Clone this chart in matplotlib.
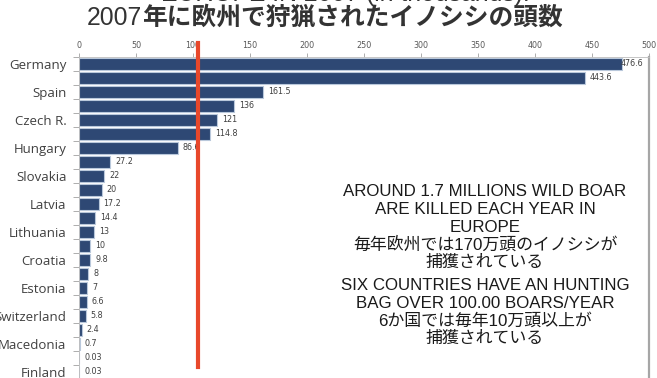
import matplotlib.pyplot as plt
import numpy as np

# Wild boar hunting bag per country, thousands (only every second name is printed)
labels = ["Germany", "", "Spain", "", "Czech R.", "", "Hungary", "",
          "Slovakia", "", "Latvia", "", "Lithuania", "", "Croatia", "",
          "Estonia", "", "Switzerland", "", "Macedonia", "", "Finland"]
values = [476.6, 443.6, 161.5, 136, 121, 114.8, 86.6, 27.2, 22, 20, 17.2,
          14.4, 13, 10, 9.8, 8, 7, 6.6, 5.8, 2.4, 0.7, 0.03, 0.03]
x_ticks = [0, 50, 100, 150, 200, 250, 300, 350, 400, 450, 500]
ref_line = 104

title_top = "EUROPE IN 2007 (in thousands)."
title_num = "2007"
title_jp = "年に欧州で狩猟されたイノシシの頭数"

note1 = ["AROUND 1.7 MILLIONS WILD BOAR", "ARE KILLED EACH YEAR IN", "EUROPE",
         "毎年欧州では170万頭のイノシシが", "捕獲されている"]
note2 = ["SIX COUNTRIES HAVE AN HUNTING", "BAG OVER 100.00 BOARS/YEAR",
         "6か国では毎年10万頭以上が", "捕獲されている"]

mixed = ["Liberation Sans", "Noto Sans CJK JP"]
W, H = 657, 378

fig = plt.figure(figsize=(W / 100, H / 100), dpi=100)
ax = fig.add_axes([79 / W, 1 - 379 / H, 570 / W, 322 / H])

y = np.arange(len(values))
ax.barh(y, values, height=0.82, color="#2E4874", edgecolor="#B9C8DB",
        linewidth=0.8, zorder=2)

for yi, v in zip(y, values):
    off = -1 if v > 470 else 3.6
    ax.annotate(f"{v:g}", (v, yi), xytext=(off, 0), textcoords="offset points",
                va="center", ha="left", fontsize=5.8, color="#404040",
                family="DejaVu Sans")

ax.set_xlim(0, 500)
ax.set_ylim(len(values) - 0.5, -0.5)

ax.xaxis.tick_top()
ax.set_xticks(x_ticks)
ax.set_xticklabels([str(t) for t in x_ticks])
ax.tick_params(axis="x", length=3, width=0.6, color="#A0A0A0", pad=2,
               labelsize=5.8, labelcolor="#595959")

ax.set_yticks(y)
ax.set_yticklabels(labels, family="Open Sans", fontsize=9.5, color="#404040")
ax.tick_params(axis="y", which="major", length=0, pad=9)
ax.set_yticks(np.arange(len(values) + 1) - 0.5, minor=True)
ax.tick_params(axis="y", which="minor", length=4, width=0.6, color="#A0A0A0")

for side in ["top", "left"]:
    ax.spines[side].set_color("#BDBDBD")
    ax.spines[side].set_linewidth(0.6)
ax.spines["right"].set_color("#A6A6A6")
ax.spines["right"].set_linewidth(1.6)
ax.spines["bottom"].set_visible(False)

# red marker line at the 100k level, reaching into the header
ax.axvline(ref_line, ymin=(379 - 367) / 322, ymax=(379 - 43) / 322,
           color="#E8482B", linewidth=3, clip_on=False, zorder=10)

# title lines (the first one is cropped at the top edge)
fig.text(345 / W, 1 + 6 / H, title_top, ha="center", va="center",
         fontsize=17.8, family="Liberation Sans", color="#333333")
t1 = fig.text(87 / W, 1 - 18 / H, title_num, ha="left", va="center",
              fontsize=17.8, family="Liberation Sans", color="#333333")
t2 = fig.text(0, 0, title_jp, ha="left", va="center",
              fontsize=17.8, family="Noto Sans CJK JP", weight="bold",
              color="#333333")
fig.canvas.draw()
bb = t1.get_window_extent()
t2.set_position((bb.x1 / W, (bb.y0 + bb.y1) / 2 / H))

for i, line in enumerate(note1):
    fig.text(485 / W, 1 - (192 + i * 17.5) / H, line, ha="center", va="center",
             fontsize=12.2, family=mixed, color="#1A1A1A")
for i, line in enumerate(note2):
    fig.text(485 / W, 1 - (286 + i * 17.5) / H, line, ha="center", va="center",
             fontsize=12.2, family=mixed, color="#1A1A1A")

fig.savefig("out.png", dpi=100, facecolor="white")
